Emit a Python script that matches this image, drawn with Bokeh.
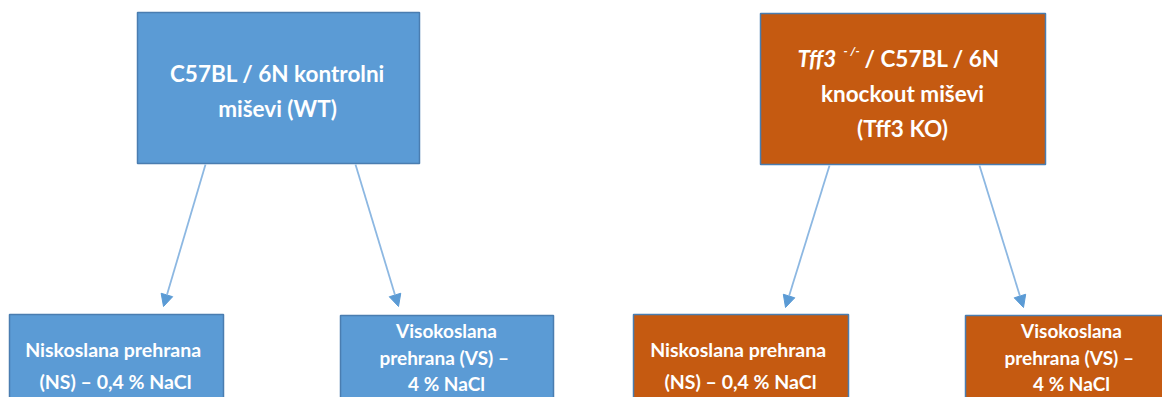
from bokeh.plotting import figure
from bokeh.models import ColumnDataSource, Arrow, NormalHead, Range1d
from bokeh.core.properties import value
from bokeh.embed import file_html
from bokeh.resources import INLINE

# ---- diagram content ----
node_names = ["WT", "KO", "WT_NS", "WT_VS", "KO_NS", "KO_VS"]
node_colors = ["#5B9BD5", "#C55A11", "#5B9BD5", "#5B9BD5", "#C55A11", "#C55A11"]
wt_lines = ["C57BL / 6N kontrolni", "miševi (WT)"]
ko_line1 = ["Tff3", "- /-", "/ C57BL / 6N"]
ko_lines = ["knockout miševi", "(Tff3 KO)"]
ns_lines = ["Niskoslana  prehrana", "(NS) – 0,4 % NaCl"]
vs_lines = ["Visokoslana", "prehrana  (VS) –", "4 % NaCl"]
edges = [("WT", "WT_NS"), ("WT", "WT_VS"), ("KO", "KO_NS"), ("KO", "KO_VS")]

# ---- layout (pixel-like coordinates, y downward) ----
boxes = {
    "WT": (137, 419, 12, 163),
    "KO": (760, 1045, 13, 164),
    "WT_NS": (9, 223, 314, 420),
    "WT_VS": (340, 553, 315, 420),
    "KO_NS": (633, 848, 314, 420),
    "KO_VS": (965, 1177, 315, 420),
}
arrow_pts = {
    ("WT", "WT_NS"): (205, 164, 163, 306),
    ("WT", "WT_VS"): (355, 164, 398, 306),
    ("KO", "KO_NS"): (829, 165, 785, 307),
    ("KO", "KO_VS"): (979, 165, 1023, 307),
}

W, H = 1162, 397
p = figure(width=W, height=H, output_backend="svg", toolbar_location=None,
           x_range=Range1d(0, W), y_range=Range1d(H, 0),
           min_border=0)
p.axis.visible = False
p.grid.visible = False
p.outline_line_color = None
p.background_fill_color = "white"
p.border_fill_color = "white"

src = ColumnDataSource(dict(
    left=[boxes[n][0] for n in node_names],
    right=[boxes[n][1] for n in node_names],
    top=[boxes[n][2] for n in node_names],
    bottom=[boxes[n][3] for n in node_names],
    color=node_colors,
))
p.quad(left="left", right="right", top="top", bottom="bottom", source=src,
       fill_color="color", line_color="#4A7DB0", line_width=1.5)

for e in edges:
    x0, y0, x1, y1 = arrow_pts[e]
    p.add_layout(Arrow(end=NormalHead(size=12, fill_color="#5B9BD5", line_color="#5B9BD5", line_width=1),
                       x_start=x0, y_start=y0, x_end=x1, y_end=y1,
                       line_color="#8DB8E2", line_width=1.8))

FONT = value("Lato")

def center_lines(lines, cx, ys, size):
    p.text(x=[cx] * len(lines), y=ys, text=lines, text_align="center",
           text_baseline="middle", text_color="white", text_font=FONT,
           text_font_size=size, text_font_style="bold")

center_lines(wt_lines, 277, [73, 108], "22.5px")

# KO first line with italic and superscript
p.text(x=[797], y=[58], text=[ko_line1[0]], text_align="left", text_baseline="middle",
       text_color="white", text_font=FONT, text_font_size="22.5px", text_font_style="bold italic")
p.text(x=[843], y=[50], text=[ko_line1[1]], text_align="left", text_baseline="middle",
       text_color="white", text_font=FONT, text_font_size="12px", text_font_style="bold italic")
p.text(x=[864], y=[58], text=[ko_line1[2]], text_align="left", text_baseline="middle",
       text_color="white", text_font=FONT, text_font_size="22.5px", text_font_style="bold")
center_lines(ko_lines, 902, [93, 128], "22.5px")

center_lines(ns_lines, 115, [349, 381], "19.5px")
center_lines(vs_lines, 446, [330, 357, 383], "19px")
center_lines(ns_lines, 740, [349, 381], "19.5px")
center_lines(vs_lines, 1071, [330, 357, 383], "19px")

open("out.html", "w").write(file_html(p, INLINE))
